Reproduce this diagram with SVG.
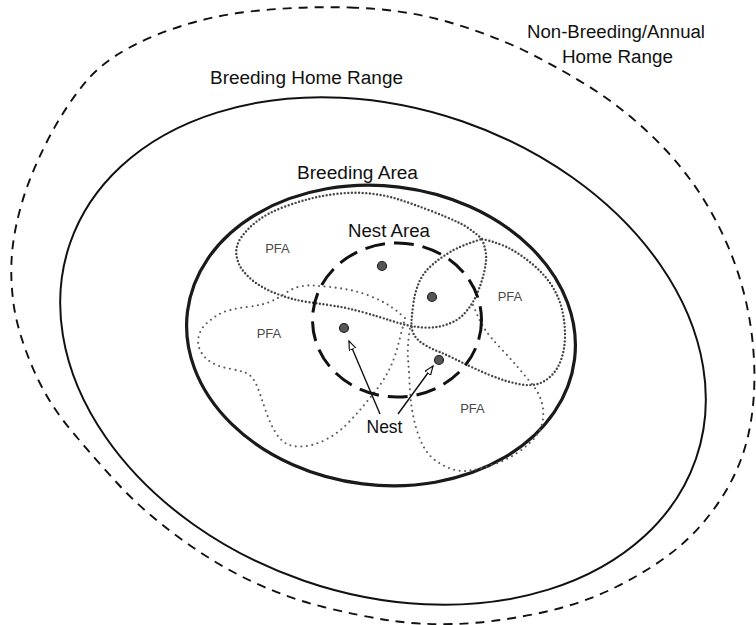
<svg xmlns="http://www.w3.org/2000/svg" width="756" height="625" viewBox="0 0 756 625">
<style>
.lbl{font-family:"Liberation Sans",Arial,sans-serif;font-size:18px;fill:#111;text-anchor:middle}
.pfa{font-family:"Liberation Sans",Arial,sans-serif;font-size:13px;fill:#4a4a4a;text-anchor:middle}
.dotH{fill:none;stroke:#444;stroke-width:2.4;stroke-linecap:round;stroke-dasharray:0 3.6}
.dotL{fill:none;stroke:#5a5a5a;stroke-width:2.1;stroke-linecap:round;stroke-dasharray:0 5.5}
.nest{fill:#555;stroke:#222;stroke-width:1.2}
.arrow{stroke:#111;stroke-width:1.4;fill:none;marker-end:url(#ah)}
</style>
<defs>
<marker id="ah" markerUnits="userSpaceOnUse" markerWidth="12" markerHeight="10" refX="9" refY="3.5" orient="auto">
<path d="M0,0 L9,3.5 L0,7 Z" fill="#fff" stroke="#111" stroke-width="1.2"/>
</marker>
</defs>
<rect width="756" height="625" fill="#fff"/>
<g id="annual-home-range">
<path d="M350 7.5 Q400 9 441 20 Q482 31 521 49 Q560 68 596 91 Q632 115 661 145 Q690 175 710 210 Q730 245 741 282.5 Q752 320 754 360 Q756 400 748.5 434 Q741 468 721.5 498 Q702 528 677 548.5 Q652 569 616 587 Q580 605 535 614 Q490 623 455 624 Q420 625 390 620.5 Q360 616 323.5 607 Q287 598 251 581 Q215 564 179 537.5 Q143 511 118.5 484.5 Q94 458 70 429 Q46 400 31.5 365 Q17 330 13.5 303.5 Q10 277 12 253.5 Q14 230 22 202.5 Q30 175 47 141.5 Q64 108 86 81.5 Q108 55 154 36 Q200 17 250 11.5 Q300 6 350 7.5 Z" fill="none" stroke="#111" stroke-width="1.9" stroke-dasharray="9 7"/>
<text class="lbl" x="616" y="37.5" textLength="178" lengthAdjust="spacingAndGlyphs">Non-Breeding/Annual</text>
<text class="lbl" x="617.5" y="63" textLength="111" lengthAdjust="spacingAndGlyphs">Home Range</text>
</g>
<g id="breeding-home-range">
<ellipse cx="383" cy="351" rx="331" ry="243" transform="rotate(19 383 351)" fill="none" stroke="#111" stroke-width="2"/>
<text class="lbl" x="306.5" y="84" textLength="193" lengthAdjust="spacingAndGlyphs">Breeding Home Range</text>
</g>
<g id="breeding-area">
<ellipse cx="381" cy="335.5" rx="195" ry="149.5" transform="rotate(7 381 335.5)" fill="none" stroke="#1a1a1a" stroke-width="3.2"/>
<text class="lbl" x="357.5" y="179" textLength="121" lengthAdjust="spacingAndGlyphs">Breeding Area</text>
</g>
<g id="pfa-top-left">
<path class="dotH" d="M482 239 Q470 228 458.5 222.5 Q447 217 430 210.5 Q413 204 399 199.5 Q385 195 370 193.5 Q355 192 340 193.5 Q325 195 311 198.5 Q297 202 282.5 207.5 Q268 213 258 220.5 Q248 228 241.5 237 Q235 246 236.5 255.5 Q238 265 244 272 Q250 279 257.5 284 Q265 289 273.5 292.5 Q282 296 291 298.5 Q300 301 311 302.5 Q322 304 335 306 Q348 308 364 312.5 Q380 317 389 320 Q398 323 406.5 325 Q415 327 423.5 327.5 Q432 328 439.5 326.5 Q447 325 454 321.5 Q461 318 467 310.5 Q473 303 476.5 295 Q480 287 482.5 278.5 Q485 270 486 261 Q487 252 482 239 Z"/>
<text class="pfa" x="277.5" y="253">PFA</text>
</g>
<g id="pfa-right">
<path class="dotH" d="M482 239 Q500 243 511.5 249.5 Q523 256 534 265.5 Q545 275 552 286 Q559 297 562 309.5 Q565 322 565 335 Q565 348 561.5 358.5 Q558 369 551.5 375.5 Q545 382 537.5 384 Q530 386 521.5 384.5 Q513 383 505 380.5 Q497 378 488.5 374.5 Q480 371 471.5 367 Q463 363 455 359 Q447 355 439.5 352 Q432 349 425 345 Q418 341 414.5 335.5 Q411 330 411.5 321.5 Q412 313 413.5 302.5 Q415 292 419 282.5 Q423 273 431.5 265.5 Q440 258 451 251.5 Q462 245 482 239 Z"/>
<text class="pfa" x="510" y="301">PFA</text>
</g>
<g id="pfa-left">
<path class="dotL" d="M405 318 Q395 309 387.5 304.5 Q380 300 370 296 Q360 292 350 290 Q340 288 330 287 Q320 286 313.5 285.5 Q307 285 300 286.5 Q293 288 286.5 292.5 Q280 297 274 300 Q268 303 261.5 304.5 Q255 306 246.5 307 Q238 308 230 310 Q222 312 216 316 Q210 320 205 325 Q200 330 198.5 337.5 Q197 345 201 352 Q205 359 212.5 363 Q220 367 228.5 368.5 Q237 370 243.5 372 Q250 374 253.5 379.5 Q257 385 260 394 Q263 403 266.5 413 Q270 423 275 431.5 Q280 440 286 443.5 Q292 447 302.5 446.5 Q313 446 325 440 Q337 434 346 425 Q355 416 362.5 407 Q370 398 377 389 Q384 380 389 370 Q394 360 397 349 Q400 338 405 318 Z"/>
<text class="pfa" x="269" y="338">PFA</text>
</g>
<g id="pfa-bottom-right">
<path class="dotL" d="M473 305 Q480 322 485 329.5 Q490 337 500 347.5 Q510 358 518.5 368 Q527 378 533 385.5 Q539 393 541.5 401.5 Q544 410 543 419 Q542 428 536 436 Q530 444 518.5 452 Q507 460 493.5 464.5 Q480 469 470 470.5 Q460 472 451.5 469 Q443 466 435.5 460.5 Q428 455 423.5 446.5 Q419 438 416 427.5 Q413 417 411.5 406 Q410 395 409.5 382.5 Q409 370 408 359 Q407 348 410 328"/>
<text class="pfa" x="472.5" y="413">PFA</text>
</g>
<g id="nest-area">
<ellipse cx="397" cy="320" rx="84.5" ry="77" fill="none" stroke="#111" stroke-width="3" stroke-dasharray="20 9"/>
<text class="lbl" x="389" y="237" textLength="82" lengthAdjust="spacingAndGlyphs">Nest Area</text>
</g>
<g id="nests">
<circle class="nest" cx="382" cy="266" r="4.5"/>
<circle class="nest" cx="432" cy="297" r="4.5"/>
<circle class="nest" cx="344" cy="328" r="4.5"/>
<circle class="nest" cx="439" cy="360" r="4.5"/>
<text class="lbl" x="384.5" y="433" style="font-size:17.5px">Nest</text>
</g>
<g id="connectors">
<line class="arrow" x1="380" y1="414" x2="349" y2="341"/>
<line class="arrow" x1="398" y1="414" x2="433" y2="366"/>
</g>
</svg>
